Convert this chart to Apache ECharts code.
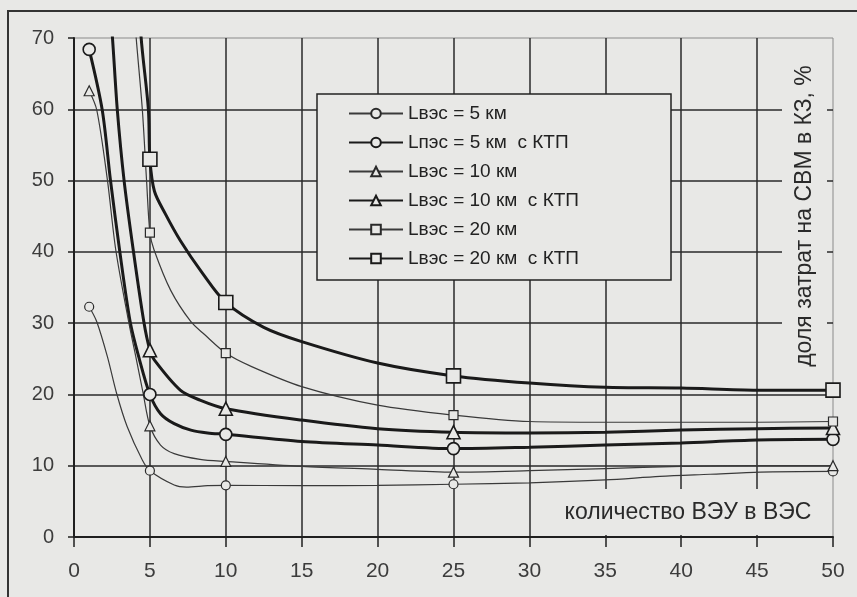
<!DOCTYPE html>
<html><head><meta charset="utf-8">
<script src="https://cdn.jsdelivr.net/npm/echarts@6/dist/echarts.min.js"></script>
<style>html,body{margin:0;padding:0;background:#e8e8e6;} #c{width:857px;height:597px;}</style>
</head><body><div id="c"></div>
<script>
// x positions where the original chart places markers
const markerX = [1, 5, 10, 25, 50];
const seriesNames = ['Lвэс = 5 км', 'Lпэс = 5 км  с КТП', 'Lвэс = 10 км', 'Lвэс = 10 км  с КТП', 'Lвэс = 20 км', 'Lвэс = 20 км  с КТП'];
const xAxisName = 'количество ВЭУ в ВЭС';
const yAxisName = 'доля затрат на СВМ в КЗ, %';

// [x, y] pairs (values above 70 are off-chart estimates)
const lvs5 = [[1,32.3],[1.5,30.2],[2.2,25.3],[2.8,20.2],[3.5,15.5],[4.5,10.8],[5,9.3],[6.6,7.3],[7.4,7.0],[8.8,7.2],[10,7.25],[15,7.2],[20,7.25],[25,7.4],[30,7.6],[35,8.0],[38.6,8.5],[41.9,8.8],[45.2,9.1],[50,9.2]];
const lps5ktp = [[1,68.4],[1.86,59.9],[2.4,50.1],[3.0,40.3],[3.7,30.2],[4.3,25.0],[5,20.0],[5.7,17.3],[6.6,15.9],[7.7,15.0],[8.8,14.6],[10,14.4],[15,13.4],[20,12.9],[25,12.4],[30,12.6],[35,12.9],[40,13.2],[45,13.6],[50,13.7]];
const lvs10 = [[1,62.6],[1.5,59.9],[2.2,50.1],[2.75,40.3],[3.6,30.2],[4.1,25.0],[4.55,20.2],[5,15.6],[5.7,12.9],[6.6,11.7],[8.3,10.9],[10,10.6],[15,9.9],[20,9.5],[25,9.1],[30,9.3],[35,9.6],[40,9.9],[45,10.0],[50,10.0]];
const lvs10ktp = [[1,110],[2.5,71],[2.85,60],[3.3,50],[3.9,40.3],[4.6,30.2],[5,26.2],[5.3,24.8],[7.0,20.6],[8.3,19.2],[10,18.0],[15,16.4],[20,15.2],[25,14.7],[30,14.6],[35,14.7],[40,15.0],[45,15.2],[50,15.3]];
const lvs20 = [[1,160],[4.06,71],[4.5,60],[4.78,50],[5,42.7],[5.27,40.3],[6.37,34.6],[7.7,30.2],[8.6,28.4],[10,25.8],[11.6,24.0],[15,21.1],[20,18.5],[25,17.1],[30,16.2],[35,16.1],[40,16.1],[45,16.1],[50,16.2]];
const lvs20ktp = [[1,200],[4.39,71],[4.9,60],[5,53.0],[5.3,48.5],[6,45.4],[7,41.6],[8.4,37.2],[10,32.9],[12.5,29.4],[15,27.4],[20,24.4],[25,22.6],[30,21.6],[35,21.0],[40,20.9],[45,20.6],[50,20.6]];

const BG = '#e8e8e6';
const INK = '#1f1f1f';
const FONT = 'Liberation Sans, Arial, sans-serif';

function build(points) {
  return points.map(p => markerX.includes(p[0]) ? { value: p } : { value: p, symbol: 'none' });
}
function mkSeries(name, pts, symbol, size, thick) {
  return {
    name: name, type: 'line', data: build(pts), smooth: 0.3,
    symbol: symbol, symbolSize: size, clip: true,
    lineStyle: { color: thick ? '#1a1a1a' : '#3a3a3a', width: thick ? 3 : 1.2 },
    itemStyle: { color: BG, borderColor: thick ? '#1a1a1a' : '#2a2a2a', borderWidth: thick ? 1.6 : 1.2 },
    emphasis: { disabled: true }
  };
}

const chart = echarts.init(document.getElementById('c'), null, { renderer: 'canvas' });
chart.setOption({
  animation: false,
  backgroundColor: BG,
  grid: { left: 74, right: 24, top: 38, bottom: 60, show: true, borderColor: '#8a8a8a', borderWidth: 1, backgroundColor: 'transparent' },
  xAxis: {
    type: 'value', min: 0, max: 50, interval: 5,
    axisLine: { show: true, lineStyle: { color: INK, width: 2 } },
    axisTick: { show: true, inside: false, length: 10, lineStyle: { color: INK, width: 1.5 } },
    axisLabel: { margin: 24, fontFamily: FONT, fontSize: 21, color: '#3c3c3c' },
    splitLine: { show: true, showMinLine: false, showMaxLine: false, lineStyle: { color: '#2a2a2a', width: 1.5 } }
  },
  yAxis: {
    type: 'value', min: 0, max: 70, interval: 10,
    axisLine: { show: true, lineStyle: { color: INK, width: 2 } },
    axisTick: { show: true, inside: false, length: 6, lineStyle: { color: INK, width: 1.5 } },
    axisLabel: { margin: 20, fontFamily: FONT, fontSize: 20, color: '#3c3c3c' },
    splitLine: { show: true, showMinLine: false, showMaxLine: false, lineStyle: { color: '#2a2a2a', width: 1.5 } }
  },
  legend: {
    orient: 'vertical', left: 317, top: 94,
    padding: [10, 10, 10, 31], itemWidth: 54, itemHeight: 12, itemGap: 10,
    textStyle: { fontFamily: FONT, fontSize: 19, color: '#222' },
    data: seriesNames, selectedMode: false
  },
  graphic: [
    { type: 'rect', z: 3, shape: { x: 8, y: 11, width: 900, height: 700 }, style: { fill: 'none', stroke: '#333', lineWidth: 2 } },
    { type: 'rect', z: 3, shape: { x: 317, y: 94, width: 354, height: 186 }, style: { fill: BG, stroke: '#222', lineWidth: 1.5 } },
    { type: 'rect', z: 3, shape: { x: 782, y: 40, width: 45, height: 345 }, style: { fill: BG } },
    { type: 'text', z: 5, x: 805, y: 216, rotation: Math.PI / 2, style: { text: yAxisName, fontFamily: FONT, fontSize: 23, fill: '#2a2a2a', align: 'center', verticalAlign: 'middle' } },
    { type: 'rect', z: 3, shape: { x: 545, y: 489, width: 283, height: 46 }, style: { fill: BG } },
    { type: 'text', z: 5, x: 688, y: 513, style: { text: xAxisName, fontFamily: FONT, fontSize: 23, fill: '#2a2a2a', align: 'center', verticalAlign: 'middle' } }
  ],
  series: [
    mkSeries(seriesNames[0], lvs5, 'circle', 9, false),
    mkSeries(seriesNames[1], lps5ktp, 'circle', 12, true),
    mkSeries(seriesNames[2], lvs10, 'triangle', 10, false),
    mkSeries(seriesNames[3], lvs10ktp, 'triangle', 13, true),
    mkSeries(seriesNames[4], lvs20, 'rect', 9, false),
    mkSeries(seriesNames[5], lvs20ktp, 'rect', 14, true)
  ]
});
</script>
</body></html>
